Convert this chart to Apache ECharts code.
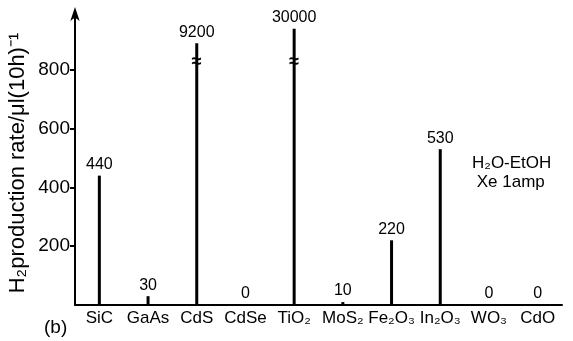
<!DOCTYPE html>
<html>
<head>
<meta charset="utf-8">
<script src="https://cdn.jsdelivr.net/npm/echarts@6/dist/echarts.min.js"></script>
<style>
  html, body { margin: 0; padding: 0; background: #fff; }
  #chart { width: 573px; height: 341px; }
</style>
</head>
<body>
<div id="chart"></div>
<script>
// catalysts on x axis
const categories = ['SiC', 'GaAs', 'CdS', 'CdSe', 'TiO₂', 'MoS₂', 'Fe₂O₃', 'In₂O₃', 'WO₃', 'CdO']
// H2 production rate, μl per 10 h (as printed above each bar)
const rates = [440, 30, 9200, 0, 30000, 10, 220, 530, 0, 0]
// drawn height of each bar (broken bars are cut short)
const drawnHeights = [440, 30, 890, 0, 940, 10, 220, 530, 0, 0]
// bars with a break mark, and where the mark sits
const breakBars = ['CdS', 'TiO₂']
const breakAt = 826
const yTicks = [200, 400, 600, 800]

const font = 'Liberation Sans'
const chart = echarts.init(document.getElementById('chart'), null, { renderer: 'canvas' })

chart.setOption({
  backgroundColor: '#fff',
  animation: false,
  textStyle: { fontFamily: font, color: '#000' },
  grid: { left: 75, right: 11, top: 11, bottom: 36 },
  xAxis: {
    type: 'category',
    data: categories,
    axisLine: { lineStyle: { color: '#000', width: 2 } },
    axisTick: { show: false },
    axisLabel: { color: '#000', fontSize: 17, margin: 5, interval: 0 }
  },
  yAxis: {
    type: 'value',
    min: 0,
    max: 1000,
    interval: 200,
    splitLine: { show: false },
    axisLine: {
      show: true,
      symbol: ['none', 'arrow'],
      symbolSize: [7, 14],
      symbolOffset: [0, 4],
      lineStyle: { color: '#000', width: 2 }
    },
    axisTick: { show: true, length: 5, customValues: yTicks, lineStyle: { color: '#000', width: 2 } },
    axisLabel: { color: '#000', fontSize: 19, margin: 5, customValues: yTicks }
  },
  series: [
    {
      type: 'bar',
      barWidth: 3,
      data: drawnHeights,
      itemStyle: { color: '#000' },
      label: {
        show: true,
        position: 'top',
        distance: 3,
        fontSize: 16,
        color: '#000',
        formatter: p => String(rates[p.dataIndex])
      },
      markPoint: {
        symbol: 'rect',
        symbolSize: [1, 1],
        itemStyle: { color: 'transparent' },
        label: { show: true, formatter: '≈', fontSize: 18, fontWeight: 'bold', color: '#000', position: 'inside' },
        data: breakBars.map(c => ({ coord: [c, breakAt] }))
      }
    }
  ],
  graphic: [
    {
      type: 'text', x: 18, y: 163, rotation: Math.PI / 2,
      style: { text: 'H₂production rate/μl(10h)⁻¹', font: '22px ' + font, fill: '#000', textAlign: 'center', textVerticalAlign: 'middle' }
    },
    { type: 'text', left: 44, top: 318, style: { text: '(b)', font: '19px ' + font, fill: '#000' } },
    { type: 'text', left: 472, top: 154, style: { text: 'H₂O-EtOH\n Xe 1amp', font: '17px ' + font, fill: '#000', lineHeight: 19 } }
  ]
})
</script>
</body>
</html>
